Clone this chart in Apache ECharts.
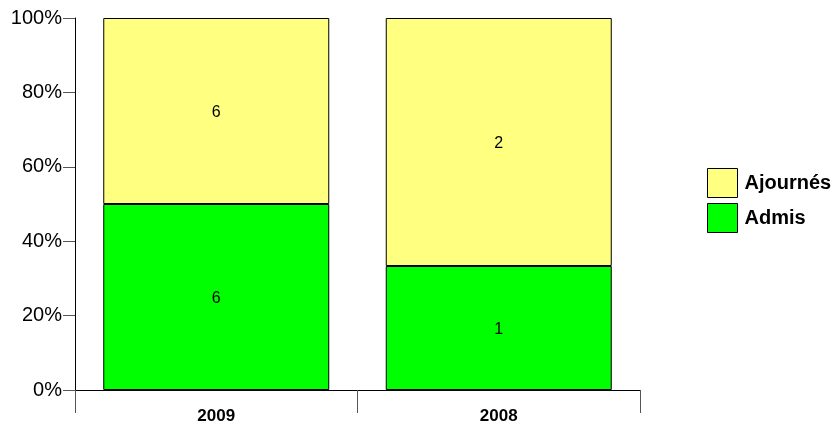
<!DOCTYPE html>
<html>
<head>
<meta charset="utf-8">
<script src="https://cdn.jsdelivr.net/npm/echarts@6/dist/echarts.min.js"></script>
<style>html,body{margin:0;padding:0;background:#fff}#c{width:836px;height:425px}</style>
</head>
<body>
<div id="c"></div>
<script>
const categories = ['2009', '2008'];
const admis = [6, 1];
const ajournes = [6, 2];
const yTicks = [0, 20, 40, 60, 80, 100];

const totals = categories.map((_, i) => admis[i] + ajournes[i]);
const pct = (arr) => arr.map((v, i) => v / totals[i] * 100);
const counts = { 'Admis': admis, 'Ajournés': ajournes };

const FONT = 'Liberation Sans, Arial, sans-serif';
const chart = echarts.init(document.getElementById('c'), null, { renderer: 'canvas' });

const labelCfg = {
  show: true,
  position: 'inside',
  offset: [0, 2],
  color: '#000',
  fontSize: 16,
  fontFamily: FONT,
  formatter: (p) => String(counts[p.seriesName][p.dataIndex])
};

chart.setOption({
  animation: false,
  grid: { left: 75, right: 196, top: 18, bottom: 34 },
  legend: {
    orient: 'vertical',
    left: 702,
    top: 163,
    icon: 'rect',
    itemWidth: 30,
    itemHeight: 29,
    itemGap: 5,
    data: ['Ajournés', 'Admis'],
    textStyle: { fontSize: 20, fontWeight: 'bold', color: '#000', fontFamily: FONT, padding: [0, 0, 0, 2] },
    itemStyle: { borderColor: '#000', borderWidth: 1 }
  },
  xAxis: {
    type: 'category',
    data: categories,
    boundaryGap: true,
    axisLine: { lineStyle: { color: '#000', width: 1 } },
    axisTick: { show: true, length: 23, interval: 0, lineStyle: { color: '#555' } },
    axisLabel: { fontSize: 17, fontWeight: 'bold', color: '#000', fontFamily: FONT, margin: 18 },
    splitLine: { show: false }
  },
  yAxis: {
    type: 'value',
    min: yTicks[0],
    max: yTicks[yTicks.length - 1],
    interval: 20,
    axisLine: { show: true, lineStyle: { color: '#000', width: 1 } },
    axisTick: { show: true, length: 12, lineStyle: { color: '#555' } },
    axisLabel: { fontSize: 20, color: '#000', fontFamily: FONT, margin: 13, formatter: '{value}%' },
    splitLine: { show: false }
  },
  series: [
    {
      name: 'Admis',
      type: 'bar',
      stack: 'total',
      barWidth: '80%',
      data: pct(admis),
      itemStyle: { color: '#00FF00', borderColor: '#000', borderWidth: 1 },
      label: labelCfg
    },
    {
      name: 'Ajournés',
      type: 'bar',
      stack: 'total',
      barWidth: '80%',
      data: pct(ajournes),
      itemStyle: { color: '#FFFF80', borderColor: '#000', borderWidth: 1 },
      label: labelCfg
    }
  ]
});
</script>
</body>
</html>
